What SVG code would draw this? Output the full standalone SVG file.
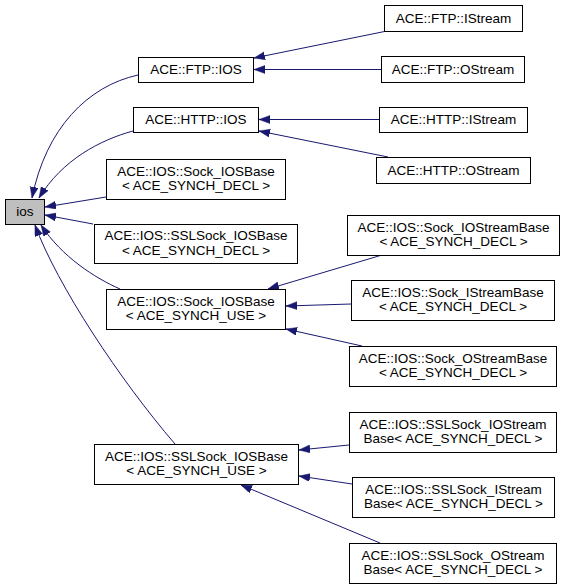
<svg xmlns="http://www.w3.org/2000/svg" width="565" height="588" viewBox="0 0 565 588">
<defs>
<marker id="arr" markerUnits="userSpaceOnUse" markerWidth="12" markerHeight="9" refX="11" refY="4" orient="auto">
<path d="M0,0 L11,4 L0,8 z" fill="#191970" stroke="#191970" stroke-width="0.5"/>
</marker>
<style>
.node rect{fill:#ffffff;stroke:#000000;stroke-width:1}
.node.main rect{fill:#bfbfbf}
.node text{font-family:"Liberation Sans",Arial,sans-serif;font-size:13.5px;text-anchor:middle;fill:#000000}
.edge{fill:none;stroke:#191970;stroke-width:1;marker-end:url(#arr)}
</style>
</defs>
<rect width="565" height="588" fill="#ffffff"/>
<g id="edges">
<path class="edge" d="M138,75 C88,86 46,128 32,198"/>
<path class="edge" d="M133,131 C100,140 62,160 39,198"/>
<path class="edge" d="M106,197 L45,207"/>
<path class="edge" d="M93,224 L45,215"/>
<path class="edge" d="M120,289 C95,278 62,257 41,225"/>
<path class="edge" d="M175,444 C120,380 57,285 35,225"/>
<path class="edge" d="M387,31 L254,58"/>
<path class="edge" d="M381,69.5 L254,69.5"/>
<path class="edge" d="M379,119.5 L259,119.5"/>
<path class="edge" d="M388,157 L259,131"/>
<path class="edge" d="M382,255 L268,289"/>
<path class="edge" d="M351,304 L286,306"/>
<path class="edge" d="M362,346 L286,329"/>
<path class="edge" d="M349,445 L299,450"/>
<path class="edge" d="M352,484 L299,476"/>
<path class="edge" d="M380,543 L241,485"/>
</g>
<g id="n_ios" class="node main"><rect x="5.5" y="199.5" width="39" height="25"/><text x="25" y="216">ios</text></g>
<g id="n_ftp_ios" class="node"><rect x="138.5" y="57.5" width="115" height="25"/><text x="196" y="74">ACE::FTP::IOS</text></g>
<g id="n_http_ios" class="node"><rect x="133.5" y="107.5" width="125" height="25"/><text x="196" y="124">ACE::HTTP::IOS</text></g>
<g id="n_sock_iosbase_decl" class="node"><rect x="106.5" y="159.5" width="179" height="40"/><text x="196" y="175.5">ACE::IOS::Sock_IOSBase</text><text x="196" y="190">&lt; ACE_SYNCH_DECL &gt;</text></g>
<g id="n_sslsock_iosbase_decl" class="node"><rect x="94.5" y="224.5" width="203" height="39"/><text x="196" y="240">ACE::IOS::SSLSock_IOSBase</text><text x="196" y="255">&lt; ACE_SYNCH_DECL &gt;</text></g>
<g id="n_sock_iosbase_use" class="node"><rect x="106.5" y="289.5" width="179" height="40"/><text x="196" y="305.5">ACE::IOS::Sock_IOSBase</text><text x="196" y="320">&lt; ACE_SYNCH_USE &gt;</text></g>
<g id="n_sslsock_iosbase_use" class="node"><rect x="94.5" y="444.5" width="204" height="40"/><text x="196.5" y="460.5">ACE::IOS::SSLSock_IOSBase</text><text x="196.5" y="475">&lt; ACE_SYNCH_USE &gt;</text></g>
<g id="n_ftp_istream" class="node"><rect x="384.5" y="5.5" width="138" height="26"/><text x="453.5" y="22.5">ACE::FTP::IStream</text></g>
<g id="n_ftp_ostream" class="node"><rect x="381.5" y="56.5" width="143" height="26"/><text x="453" y="73.5">ACE::FTP::OStream</text></g>
<g id="n_http_istream" class="node"><rect x="379.5" y="107.5" width="148" height="25"/><text x="453.5" y="124">ACE::HTTP::IStream</text></g>
<g id="n_http_ostream" class="node"><rect x="376.5" y="157.5" width="154" height="26"/><text x="453.5" y="174.5">ACE::HTTP::OStream</text></g>
<g id="n_sock_iostreambase" class="node"><rect x="347.5" y="215.5" width="212" height="40"/><text x="453.5" y="231.5">ACE::IOS::Sock_IOStreamBase</text><text x="453.5" y="246">&lt; ACE_SYNCH_DECL &gt;</text></g>
<g id="n_sock_istreambase" class="node"><rect x="351.5" y="280.5" width="203" height="40"/><text x="453" y="296.5">ACE::IOS::Sock_IStreamBase</text><text x="453" y="311">&lt; ACE_SYNCH_DECL &gt;</text></g>
<g id="n_sock_ostreambase" class="node"><rect x="349.5" y="346.5" width="207" height="40"/><text x="453" y="362.5">ACE::IOS::Sock_OStreamBase</text><text x="453" y="377">&lt; ACE_SYNCH_DECL &gt;</text></g>
<g id="n_sslsock_iostreambase" class="node"><rect x="349.5" y="412.5" width="207" height="40"/><text x="453" y="428.5">ACE::IOS::SSLSock_IOStream</text><text x="453" y="443">Base&lt; ACE_SYNCH_DECL &gt;</text></g>
<g id="n_sslsock_istreambase" class="node"><rect x="352.5" y="477.5" width="202" height="40"/><text x="453.5" y="493.5">ACE::IOS::SSLSock_IStream</text><text x="453.5" y="508">Base&lt; ACE_SYNCH_DECL &gt;</text></g>
<g id="n_sslsock_ostreambase" class="node"><rect x="349.5" y="543.5" width="207" height="40"/><text x="453" y="559.5">ACE::IOS::SSLSock_OStream</text><text x="453" y="574">Base&lt; ACE_SYNCH_DECL &gt;</text></g>
</svg>
